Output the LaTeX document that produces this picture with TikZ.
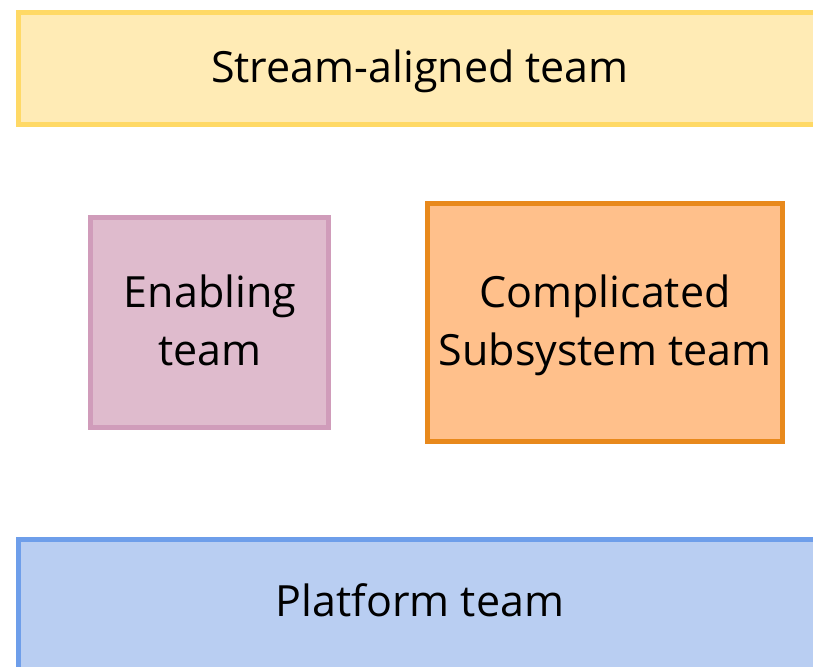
\documentclass[tikz,border=0pt]{standalone}
\usepackage{fontspec}
\setmainfont{Open Sans}
\definecolor{streamfill}{HTML}{FFEBB5}
\definecolor{streamline}{HTML}{FFD966}
\definecolor{enablefill}{HTML}{DFBBCD}
\definecolor{enableline}{HTML}{D09CBA}
\definecolor{complfill}{HTML}{FFC08B}
\definecolor{complline}{HTML}{E8891C}
\definecolor{platfill}{HTML}{B9CEF2}
\definecolor{platline}{HTML}{6E9EEA}
\tikzset{
  teambox/.style={draw, line width=5pt, rectangle, inner sep=0pt},
  teamtext/.style={font=\fontsize{43}{58}\selectfont, align=center},
}
\begin{document}
\begin{tikzpicture}[x=1pt,y=-1pt]
  \useasboundingbox (0,0) rectangle (813,666);
  \clip (0,0) rectangle (813,666);
  % stream-aligned band along the top
  \draw[teambox, draw=streamline, fill=streamfill] (18.5,12.5) rectangle (822,124.5);
  \node[teamtext] (stream) at (420,71) {Stream-aligned team};
  % enabling team
  \draw[teambox, draw=enableline, fill=enablefill] (90.5,217.5) rectangle (328.5,427.5);
  \node[teamtext] (enabling) at (210,320) {Enabling\\team};
  % complicated subsystem team
  \draw[teambox, draw=complline, fill=complfill] (427.5,203.5) rectangle (782.5,441.5);
  \node[teamtext] (complicated) at (605,325) {Complicated\\Subsystem team};
  % platform band along the bottom
  \draw[teambox, draw=platline, fill=platfill] (18.5,539.5) rectangle (822,680);
  \node[teamtext] (platform) at (420,600.5) {Platform team};
\end{tikzpicture}
\end{document}
